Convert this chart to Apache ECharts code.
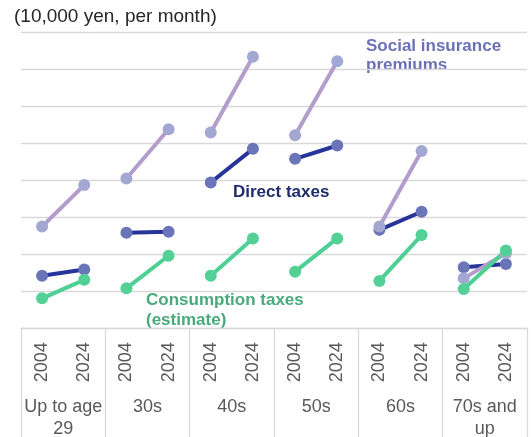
<!DOCTYPE html>
<html>
<head>
<meta charset="utf-8">
<script src="https://cdn.jsdelivr.net/npm/echarts@6/dist/echarts.min.js"></script>
<style>
  html, body { margin: 0; padding: 0; background: #fff; }
  #chart { width: 531px; height: 437px; }
</style>
</head>
<body>
<div id="chart"></div>
<script>
// Household burden per month by age group of household head (10,000 yen)
const ageGroups = ['Up to age\n29', '30s', '40s', '50s', '60s', '70s and\nup'];
const years = ['2004', '2024'];

// values per age group: [2004, 2024]
const directTaxes = [[1.42, 1.59], [2.58, 2.61], [3.94, 4.85], [4.58, 4.94], [2.66, 3.15], [1.65, 1.74]];
const socialInsurance = [[2.75, 3.87], [4.05, 5.38], [5.29, 7.34], [5.22, 7.22], [2.75, 4.79], [1.35, 2.03]];
const consumptionTaxes = [[0.81, 1.31], [1.08, 1.96], [1.42, 2.43], [1.53, 2.43], [1.28, 2.52], [1.06, 2.10]];

const yTicks = { min: 0, max: 8, interval: 1 };

const FONT = 'Liberation Sans, Arial, sans-serif';
const GRID_COLOR = '#d9d9d9';

const metrics = [
  { name: 'Direct taxes', values: directTaxes, line: '#27349a', dot: '#6a75b9' },
  { name: 'Social insurance premiums', values: socialInsurance, line: '#b49dcc', dot: '#a3a8d3' },
  { name: 'Consumption taxes (estimate)', values: consumptionTaxes, line: '#4dcf95', dot: '#52d096' }
];

// one year-slot per age group and survey year
const yearSlots = [];
ageGroups.forEach(() => years.forEach(y => yearSlots.push(y)));

// a separate short segment for each age group
const series = [];
metrics.forEach(m => {
  m.values.forEach((pair, g) => {
    const data = yearSlots.map(() => null);
    data[2 * g] = pair[0];
    data[2 * g + 1] = pair[1];
    series.push({
      name: m.name,
      type: 'line',
      xAxisIndex: 0,
      data: data,
      connectNulls: false,
      symbol: 'circle',
      symbolSize: 12,
      lineStyle: { color: m.line, width: 4 },
      itemStyle: { color: m.dot },
      emphasis: { disabled: true },
      silent: true,
      animation: false
    });
  });
});

const chart = echarts.init(document.getElementById('chart'), null, { renderer: 'canvas' });
chart.setOption({
  animation: false,
  textStyle: { fontFamily: FONT },
  grid: {
    left: 21, right: 4, top: 32.3, bottom: 108.7,
    containLabel: false, outerBoundsMode: 'none'
  },
  xAxis: [
    {
      type: 'category',
      data: yearSlots,
      position: 'bottom',
      boundaryGap: true,
      axisLine: { show: true, lineStyle: { color: GRID_COLOR, width: 1.3 } },
      axisTick: { show: false },
      axisLabel: {
        interval: 0, rotate: 90, margin: 14,
        fontSize: 18, color: '#595959', fontFamily: FONT
      },
      splitLine: { show: false }
    },
    {
      type: 'category',
      data: ageGroups,
      position: 'bottom',
      boundaryGap: true,
      axisLine: { show: false },
      axisTick: { show: true, interval: 0, length: 110, lineStyle: { color: GRID_COLOR, width: 1.3 } },
      axisLabel: {
        interval: 0, margin: 68, fontSize: 18, lineHeight: 21.5,
        color: '#595959', fontFamily: FONT, align: 'center'
      },
      splitLine: { show: false }
    }
  ],
  yAxis: {
    type: 'value',
    min: yTicks.min, max: yTicks.max, interval: yTicks.interval,
    axisLine: { show: false },
    axisTick: { show: false },
    axisLabel: { show: false },
    splitLine: { show: true, lineStyle: { color: GRID_COLOR, width: 1.3 } }
  },
  graphic: [
    {
      type: 'text', left: 14, top: 7,
      style: { text: '(10,000 yen, per month)', font: '19px ' + FONT, fill: '#262626' }
    },
    {
      type: 'text', left: 366, top: 37,
      style: { text: 'Social insurance\npremiums', font: 'bold 17px ' + FONT, lineHeight: 19, fill: '#6b70b7' }
    },
    {
      type: 'text', left: 233, top: 183,
      style: { text: 'Direct taxes', font: 'bold 17px ' + FONT, lineHeight: 19, fill: '#1d2d6c' }
    },
    {
      type: 'text', left: 146, top: 291,
      style: { text: 'Consumption taxes\n(estimate)', font: 'bold 17px ' + FONT, lineHeight: 19.5, fill: '#4aaa79' }
    }
  ],
  series: series
});
</script>
</body>
</html>
